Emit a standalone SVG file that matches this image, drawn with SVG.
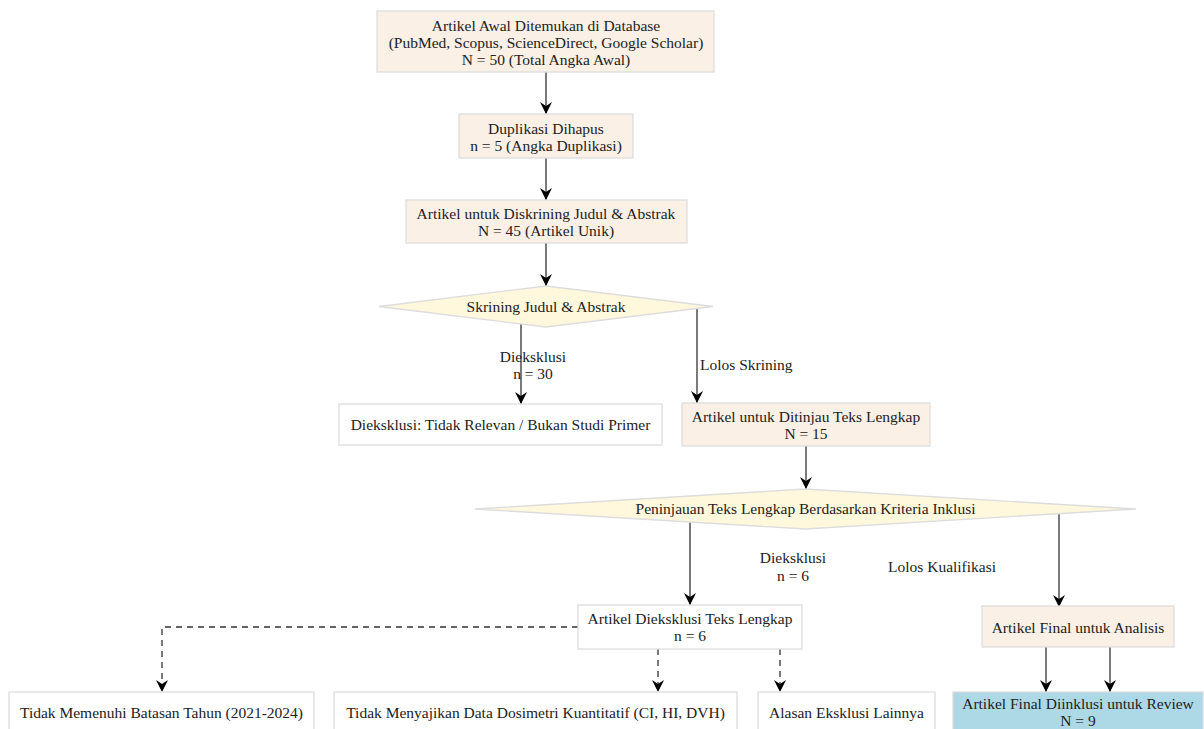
<svg xmlns="http://www.w3.org/2000/svg" width="1204" height="729" viewBox="0 0 1204 729">
<defs>
<style>
.t{font-family:"Liberation Serif","Times New Roman",serif;font-size:15.5px;fill:#222;text-anchor:middle;dominant-baseline:central}
.tl{text-anchor:start}
.pr{fill:#FAF0E6;stroke:#ddd;stroke-width:1.3}
.ex{fill:#fff;stroke:#ddd;stroke-width:1.3}
.dm{fill:#FFF8DC;stroke:#ddd;stroke-width:1.3}
.fin{fill:#ADD8E6;stroke:#ddd;stroke-width:1.3}
.e{fill:none;stroke:#333;stroke-width:1.3;marker-end:url(#ah)}
.d{stroke-dasharray:6,5}
</style>
<marker id="ah" viewBox="0 0 12 12" refX="12" refY="6" markerWidth="12" markerHeight="12" markerUnits="userSpaceOnUse" orient="auto">
<path d="M0,0 L12,6 L0,12 L4,6 z" fill="#000"/>
</marker>
</defs>
<rect width="1204" height="729" fill="#fff"/>
<g id="connectors">
<line class="e" x1="546" y1="72" x2="546" y2="114"/>
<line class="e" x1="546" y1="158" x2="546" y2="200"/>
<line class="e" x1="546" y1="243" x2="546" y2="286"/>
<line class="e" x1="521" y1="324" x2="521" y2="404"/>
<line class="e" x1="697" y1="309" x2="697" y2="403"/>
<line class="e" x1="806" y1="446" x2="806" y2="489"/>
<line class="e" x1="690" y1="522" x2="690" y2="605"/>
<line class="e" x1="1059" y1="514" x2="1059" y2="607"/>
<path class="e d" d="M578,627 H162 V692"/>
<line class="e d" x1="658" y1="649" x2="658" y2="692"/>
<line class="e d" x1="780" y1="649" x2="780" y2="692"/>
<line class="e" x1="1046" y1="647" x2="1046" y2="692"/>
<line class="e" x1="1110" y1="647" x2="1110" y2="692"/>
<text class="t" x="533" y="356">Dieksklusi</text>
<text class="t" x="533" y="373">n = 30</text>
<text class="t tl" x="700" y="364">Lolos Skrining</text>
<text class="t" x="793" y="557">Dieksklusi</text>
<text class="t" x="793" y="575">n = 6</text>
<text class="t tl" x="888" y="566">Lolos Kualifikasi</text>
</g>
<g id="n1">
<rect class="pr" x="377" y="11" width="337" height="61"/>
<text class="t" x="546" y="25">Artikel Awal Ditemukan di Database</text>
<text class="t" x="546" y="42">(PubMed, Scopus, ScienceDirect, Google Scholar)</text>
<text class="t" x="546" y="59">N = 50 (Total Angka Awal)</text>
</g>
<g id="n2">
<rect class="pr" x="459" y="114" width="174" height="44"/>
<text class="t" x="546" y="128">Duplikasi Dihapus</text>
<text class="t" x="546" y="145">n = 5 (Angka Duplikasi)</text>
</g>
<g id="n3">
<rect class="pr" x="406" y="200" width="281" height="43"/>
<text class="t" x="546" y="213">Artikel untuk Diskrining Judul &amp; Abstrak</text>
<text class="t" x="546" y="230">N = 45 (Artikel Unik)</text>
</g>
<g id="d1">
<polygon class="dm" points="379,306.5 546,286 713,306.5 546,327"/>
<text class="t" x="546" y="306">Skrining Judul &amp; Abstrak</text>
</g>
<g id="x1">
<rect class="ex" x="339" y="404" width="323" height="41"/>
<text class="t" x="500.5" y="424">Dieksklusi: Tidak Relevan / Bukan Studi Primer</text>
</g>
<g id="n4">
<rect class="pr" x="682" y="403" width="248" height="43"/>
<text class="t" x="806" y="416">Artikel untuk Ditinjau Teks Lengkap</text>
<text class="t" x="806" y="433">N = 15</text>
</g>
<g id="d2">
<polygon class="dm" points="475,509 805.5,489 1136,509 805.5,529"/>
<text class="t" x="805.5" y="508">Peninjauan Teks Lengkap Berdasarkan Kriteria Inklusi</text>
</g>
<g id="x2">
<rect class="ex" x="578" y="605" width="224" height="44"/>
<text class="t" x="690" y="618">Artikel Dieksklusi Teks Lengkap</text>
<text class="t" x="690" y="635">n = 6</text>
</g>
<g id="n5">
<rect class="pr" x="982" y="606" width="192" height="41"/>
<text class="t" x="1078" y="627">Artikel Final untuk Analisis</text>
</g>
<g id="r1">
<rect class="ex" x="9" y="692" width="305" height="42"/>
<text class="t" x="161.5" y="712">Tidak Memenuhi Batasan Tahun (2021-2024)</text>
</g>
<g id="r2">
<rect class="ex" x="334" y="692" width="403" height="42"/>
<text class="t" x="535.5" y="712">Tidak Menyajikan Data Dosimetri Kuantitatif (CI, HI, DVH)</text>
</g>
<g id="r3">
<rect class="ex" x="758" y="692" width="177" height="42"/>
<text class="t" x="846.5" y="712">Alasan Eksklusi Lainnya</text>
</g>
<g id="n6">
<rect class="fin" x="953" y="692" width="250" height="44"/>
<text class="t" x="1078" y="703">Artikel Final Diinklusi untuk Review</text>
<text class="t" x="1078" y="720">N = 9</text>
</g>
</svg>
